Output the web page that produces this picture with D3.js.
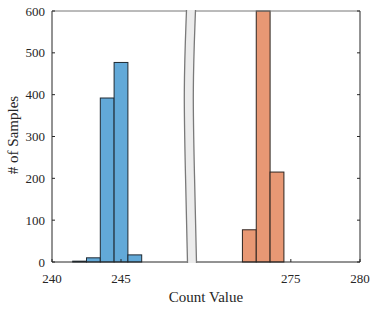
<!DOCTYPE html>
<html>
<head>
<meta charset="utf-8">
<script src="https://cdn.jsdelivr.net/npm/d3@7"></script>
<style>
  body { margin: 0; background: #fff; }
  svg text { font-family: "Liberation Serif", "Times New Roman", serif; fill: #262626; }
</style>
</head>
<body>
<svg id="chart" width="374" height="309"></svg>
<script>
// ── DATA ──────────────────────────────────────────────
const blueBinStarts = [241.5, 242.5, 243.5, 244.5, 245.5];
const blueCounts    = [2, 10, 392, 477, 17];
const orangeBinStarts = [271.5, 272.5, 273.5];
const orangeCounts    = [77, 600, 215];
const binWidth = 1;

const yTicks = [0, 100, 200, 300, 400, 500, 600];
const xTicksLeft  = [240, 245];
const xTicksRight = [275, 280];

// ── LAYOUT ────────────────────────────────────────────
const plotL = 52, plotR = 360, plotT = 11, plotB = 262;
const breakX = 190;

const svg = d3.select("#chart");

const y = d3.scaleLinear().domain([0, 600]).range([plotB, plotT]);
const xL = d3.scaleLinear().domain([240, 250]).range([plotL, breakX]);
const xR = d3.scaleLinear().domain([268, 280]).range([194, plotR]);

const blue = blueBinStarts.map((s, i) => ({ x0: s, x1: s + binWidth, n: blueCounts[i] }));
const orange = orangeBinStarts.map((s, i) => ({ x0: s, x1: s + binWidth, n: orangeCounts[i] }));

// bars
svg.append("g")
  .selectAll("rect")
  .data(blue)
  .join("rect")
    .attr("x", d => xL(d.x0))
    .attr("y", d => y(d.n))
    .attr("width", d => xL(d.x1) - xL(d.x0))
    .attr("height", d => y(0) - y(d.n))
    .attr("fill", "#62a9d8")
    .attr("stroke", "#1f2a33")
    .attr("stroke-width", 1);

svg.append("g")
  .selectAll("rect")
  .data(orange)
  .join("rect")
    .attr("x", d => xR(d.x0))
    .attr("y", d => y(d.n))
    .attr("width", d => xR(d.x1) - xR(d.x0))
    .attr("height", d => y(0) - y(d.n))
    .attr("fill", "#e89874")
    .attr("stroke", "#2e2420")
    .attr("stroke-width", 1);

// ── AXES BOX ──────────────────────────────────────────
const axisColor = "#262626";
const box = svg.append("g").attr("fill", "none").attr("stroke", axisColor).attr("stroke-width", 1);
box.append("line").attr("x1", plotL).attr("x2", plotL).attr("y1", plotT).attr("y2", plotB);
box.append("line").attr("x1", plotR).attr("x2", plotR).attr("y1", plotT).attr("y2", plotB);
box.append("line").attr("x1", plotL).attr("x2", plotR).attr("y1", plotB).attr("y2", plotB);
box.append("line").attr("x1", plotL).attr("x2", plotR).attr("y1", plotT).attr("y2", plotT)
  .attr("stroke", "#777");

// y ticks inward on both sides
const yt = svg.append("g").attr("stroke", axisColor);
yTicks.forEach(t => {
  yt.append("line").attr("x1", plotL).attr("x2", plotL + 3).attr("y1", y(t)).attr("y2", y(t));
  yt.append("line").attr("x1", plotR).attr("x2", plotR - 3).attr("y1", y(t)).attr("y2", y(t));
});

svg.append("g")
  .selectAll("text")
  .data(yTicks)
  .join("text")
    .attr("x", plotL - 7)
    .attr("y", d => y(d) + 4.5)
    .attr("text-anchor", "end")
    .style("font-size", "13px")
    .text(d => d);

// x ticks
const xTickData = xTicksLeft.map(v => ({ v, px: xL(v) }))
  .concat(xTicksRight.map(v => ({ v, px: xR(v) })));

svg.append("g")
  .attr("stroke", axisColor)
  .selectAll("line")
  .data(xTickData)
  .join("line")
    .attr("x1", d => d.px).attr("x2", d => d.px)
    .attr("y1", plotB).attr("y2", plotB - 3);

svg.append("g")
  .selectAll("text")
  .data(xTickData)
  .join("text")
    .attr("x", d => d.px)
    .attr("y", 283)
    .attr("text-anchor", "middle")
    .style("font-size", "13px")
    .text(d => d.v);

// ── AXIS BREAK ────────────────────────────────────────
const breakCenter = [[191, plotT - 1], [188, 90], [190, 175], [192, plotB + 1]];
const halfW = 4.5;
const edge = d3.line().curve(d3.curveBasis);
const leftEdge = breakCenter.map(([cx, cy]) => [cx - halfW, cy]);
const rightEdge = breakCenter.map(([cx, cy]) => [cx + halfW, cy]);

svg.append("path")
  .attr("d", edge(leftEdge) + "L" + edge(rightEdge.slice().reverse()).slice(1) + "Z")
  .attr("fill", "#ececec")
  .attr("stroke", "none");
svg.append("path").attr("d", edge(leftEdge)).attr("fill", "none").attr("stroke", "#7a7a7a").attr("stroke-width", 1.3);
svg.append("path").attr("d", edge(rightEdge)).attr("fill", "none").attr("stroke", "#7a7a7a").attr("stroke-width", 1.3);

// ── LABELS ────────────────────────────────────────────
svg.append("text")
  .attr("x", 206)
  .attr("y", 302)
  .attr("text-anchor", "middle")
  .style("font-size", "15px")
  .text("Count Value");

svg.append("text")
  .attr("transform", "translate(18, 135) rotate(-90)")
  .attr("text-anchor", "middle")
  .style("font-size", "15px")
  .text("# of Samples");
</script>
</body>
</html>
